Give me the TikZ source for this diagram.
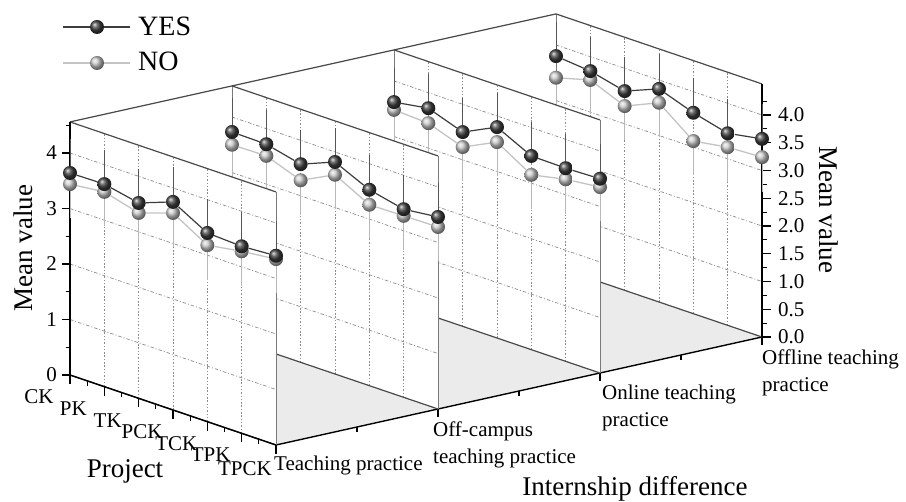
\documentclass[tikz,border=0pt]{standalone}
\usepackage{fontspec}
\setmainfont{Liberation Serif}
\usetikzlibrary{calc}
\definecolor{gridc}{HTML}{8C8C8C}
\definecolor{floorc}{HTML}{EBEBEB}
\definecolor{framec}{HTML}{4A4A4A}
\definecolor{edgec}{HTML}{7A7A7A}
\definecolor{yesln}{HTML}{3C3C3C}
\definecolor{noln}{HTML}{C4C4C4}
\definecolor{yeserr}{HTML}{555555}
\definecolor{noerr}{HTML}{B8B8B8}
\def\zm{4.56}
\def\YESv{{3.64,3.65,3.52,3.75,3.40,3.37,3.41, 3.73,3.72,3.57,3.82,3.53,3.39,3.46, 3.62,3.72,3.50,3.80,3.49,3.48,3.50, 3.80,3.74,3.59,3.84,3.62,3.46,3.57}}
\def\NOv{{3.44,3.51,3.34,3.55,3.18,3.28,3.35, 3.50,3.51,3.28,3.59,3.26,3.27,3.28, 3.48,3.45,3.23,3.53,3.15,3.28,3.35, 3.41,3.58,3.32,3.59,3.11,3.21,3.24}}
\begin{document}
\begin{tikzpicture}[x=1pt,y=-1pt,
  ticklab/.style={font=\fontsize{21}{27}\selectfont, inner sep=0pt},
  titlelab/.style={font=\fontsize{27}{32}\selectfont, inner sep=0pt},
  gridh/.style={gridc, line width=0.7pt, dash pattern=on 3.5pt off 2pt on 1pt off 2pt},
  gridv/.style={gridc, line width=0.7pt, dash pattern=on 1.5pt off 1.8pt},
  topedge/.style={framec, line width=1.2pt},
  sideedge/.style={edgec, line width=1pt},
  axisln/.style={black, line width=1.4pt},
  tickln/.style={black, line width=1.1pt},
  yesline/.style={yesln, line width=1.2pt},
  noline/.style={noln, line width=1.3pt},
  yesbar/.style={yeserr, line width=1pt},
  nobar/.style={noerr, line width=1pt},
  yesball/.style={circle, inner sep=0pt, minimum size=14pt, ball color=black!75},
  noball/.style={circle, inner sep=0pt, minimum size=14pt, ball color=black!22},
]
\useasboundingbox (0,0) rectangle (906,502);

\begin{scope}[shift={(70,375)}, x={(34.3333pt,-11.6667pt)}, y={(162pt,36pt)}, z={(0pt,55.5pt)}]
  % back top line
  \draw[topedge] (0,0,\zm) -- (0,3,\zm);
  % floor
  \fill[floorc] (0,0,0) -- (6,0,0) -- (6,3,0) -- (0,3,0) -- cycle;
  % internship axis
  \draw[axisln] (6,0,0) -- (6,3,0);
  \foreach \s in {0,1,2,3} \draw[tickln] (6,\s,0) -- ++(0pt,-8pt);
  \foreach \s in {0.5,1.5,2.5} \draw[tickln] (6,\s,0) -- ++(0pt,-5pt);

  \foreach \s in {3,2,1,0} {
    \fill[white] (0,\s,0) -- (6,\s,0) -- (6,\s,\zm) -- (0,\s,\zm) -- cycle;
    \foreach \v in {1,2,3,4} \draw[gridh] (0,\s,\v) -- (6,\s,\v);
    \foreach \p in {1,...,5} \draw[gridv] (\p,\s,0) -- (\p,\s,\zm);
    \draw[sideedge] (0,\s,0) -- (0,\s,\zm);
    \draw[sideedge] (6,\s,0) -- (6,\s,\zm);
    \draw[topedge] (0,\s,\zm) -- (6,\s,\zm);
    \draw[topedge] (0,\s,0) -- (6,\s,0);
    \ifnum\s=3
      \draw[axisln] (6,3,0) -- (6,3,\zm);
      \foreach \v in {0.0,0.5,1.0,1.5,2.0,2.5,3.0,3.5,4.0} {
        \draw[tickln] (6,3,\v) -- ++(9pt,0pt);
        \node[ticklab, anchor=west, xshift=16pt] (ry\v) at (6,3,\v) {\v};
      }
      \foreach \v in {0.25,0.75,...,4.5} \draw[tickln] (6,3,\v) -- ++(5pt,0pt);
    \fi
    \ifnum\s=0
      \draw[axisln] (0,0,0) -- (0,0,\zm);
      \draw[axisln] (0,0,0) -- (6,0,0);
      \foreach \v in {0,...,4} {
        \draw[tickln] (0,0,\v) -- ++(-8pt,0pt);
        \node[ticklab, anchor=east, xshift=-13pt] (ly\v) at (0,0,\v) {\v};
      }
      \foreach \v in {0.5,1.5,2.5,3.5,4.5} \draw[tickln] (0,0,\v) -- ++(-4pt,0pt);
      \foreach \p in {0,...,6} \draw[tickln] (\p,0,0) -- ++(0pt,-9pt);
      \foreach \p in {0.5,1.5,...,5.5} \draw[tickln] (\p,0,0) -- ++(0pt,-5pt);
      \foreach \p/\t/\dy in {0/CK/-22pt,1/PK/-22pt,2/TK/-22pt,3/PCK/-22pt,4/TCK/-22pt,5/TPK/-21pt,6/TPCK/-24pt}
        \node[ticklab, xshift=-31pt, yshift=\dy] (pl\p) at (\p,0,0) {\t};
    \fi
    % error bars
    \foreach \p in {0,...,6} {
      \pgfmathsetmacro\vy{\YESv[7*\s+\p]}
      \pgfmathsetmacro\vn{\NOv[7*\s+\p]}
      \draw[nobar] (\p,\s,{\vn-0.62}) -- (\p,\s,\vn);
      \draw[yesbar] (\p,\s,\vy) -- (\p,\s,{\vy+0.62});
    }
    % NO series
    \foreach \p in {0,...,6} {
      \pgfmathsetmacro\vn{\NOv[7*\s+\p]}
      \node[noball] (N\s-\p) at (\p,\s,\vn) {};
    }
    \foreach \p [evaluate=\p as \q using int(\p-1)] in {1,...,6}
      \draw[noline] (N\s-\q) -- (N\s-\p);
    % YES series
    \foreach \p in {0,...,6} {
      \pgfmathsetmacro\vy{\YESv[7*\s+\p]}
      \node[yesball] (Y\s-\p) at (\p,\s,\vy) {};
    }
    \foreach \p [evaluate=\p as \q using int(\p-1)] in {1,...,6}
      \draw[yesline] (Y\s-\q) -- (Y\s-\p);
  }
\end{scope}

% internship labels
\node[ticklab, anchor=north west, align=left] (il0) at (274,456) {Teaching practice};
\node[ticklab, anchor=north west, align=left] (il1) at (433,422) {Off-campus\\teaching practice};
\node[ticklab, anchor=north west, align=left] (il2) at (602,385) {Online teaching\\practice};
\node[ticklab, anchor=north west, align=left] (il3) at (762,350) {Offline teaching\\practice};

% axis titles
\node[titlelab, rotate=90] (ml) at (23,248) {Mean value};
\node[titlelab, rotate=-90] (mr) at (829,210) {Mean value};
\node[titlelab, anchor=base] (pj) at (125,478) {Project};
\node[titlelab, anchor=base] (idf) at (635,496) {Internship difference};

% legend
\coordinate (lya) at (63,27); \coordinate (lyb) at (130,27);
\coordinate (lna) at (63,63); \coordinate (lnb) at (130,63);
\draw[yesline] (lya) -- (lyb);
\draw[noline] (lna) -- (lnb);
\node[yesball] (lyball) at (97,27) {};
\node[noball] (lnball) at (97,63) {};
\node[titlelab, font=\fontsize{28}{32}\selectfont, anchor=west] (tyes) at (138,26) {YES};
\node[titlelab, font=\fontsize{28}{32}\selectfont, anchor=west] (tno) at (138,61) {NO};
\end{tikzpicture}
\end{document}
